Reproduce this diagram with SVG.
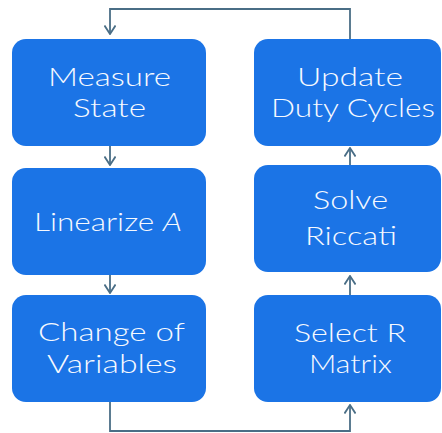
<svg xmlns="http://www.w3.org/2000/svg" width="442" height="433" viewBox="0 0 442 433">
  <style>
    .box { fill: #1b74e6; }
    .lbl { fill: #f6f9ff; font-family: Lato, "DejaVu Sans", sans-serif; font-size: 25.5px; font-weight: 300; text-anchor: middle; }
    .wire { fill: none; stroke: #4a6e86; stroke-width: 1.8; }
  </style>
  <defs>
    <marker id="arrow" viewBox="0 0 12 12" refX="11" refY="6" markerWidth="12" markerHeight="12" markerUnits="userSpaceOnUse" orient="auto">
      <path d="M2.5 0.5 L11 6 L2.5 11.5" fill="none" stroke="#4a6e86" stroke-width="1.8"/>
    </marker>
  </defs>
  <rect width="442" height="433" fill="#ffffff"/>

  <g id="connectors">
    <path class="wire" d="M350 39 V9 H110 V34" marker-end="url(#arrow)"/>
    <path class="wire" d="M110 146 V165" marker-end="url(#arrow)"/>
    <path class="wire" d="M110 275 V293" marker-end="url(#arrow)"/>
    <path class="wire" d="M110 402 V431 H350 V405" marker-end="url(#arrow)"/>
    <path class="wire" d="M350 295 V276" marker-end="url(#arrow)"/>
    <path class="wire" d="M350 165 V148" marker-end="url(#arrow)"/>
  </g>

  <g id="measure-state">
    <rect class="box" x="12" y="39" width="194" height="107" rx="14"/>
    <text class="lbl" x="109.5" y="86" textLength="123" lengthAdjust="spacingAndGlyphs">Measure</text>
    <text class="lbl" x="109.5" y="117" textLength="73" lengthAdjust="spacingAndGlyphs">State</text>
  </g>

  <g id="linearize-a">
    <rect class="box" x="12" y="168" width="194" height="107" rx="14"/>
    <text class="lbl" x="108" y="231" textLength="148" lengthAdjust="spacingAndGlyphs">Linearize <tspan font-style="italic">A</tspan></text>
  </g>

  <g id="change-of-variables">
    <rect class="box" x="12" y="295" width="194" height="107" rx="14"/>
    <text class="lbl" x="111.5" y="341" textLength="147" lengthAdjust="spacingAndGlyphs">Change of</text>
    <text class="lbl" x="112" y="373" textLength="130" lengthAdjust="spacingAndGlyphs">Variables</text>
  </g>

  <g id="update-duty-cycles">
    <rect class="box" x="254" y="39" width="187" height="107" rx="14"/>
    <text class="lbl" x="350" y="86" textLength="106" lengthAdjust="spacingAndGlyphs">Update</text>
    <text class="lbl" x="353" y="117" textLength="164" lengthAdjust="spacingAndGlyphs">Duty Cycles</text>
  </g>

  <g id="solve-riccati">
    <rect class="box" x="254" y="165" width="187" height="107" rx="14"/>
    <text class="lbl" x="350.5" y="209" textLength="75" lengthAdjust="spacingAndGlyphs">Solve</text>
    <text class="lbl" x="351" y="245" textLength="92" lengthAdjust="spacingAndGlyphs">Riccati</text>
  </g>

  <g id="select-r-matrix">
    <rect class="box" x="254" y="295" width="187" height="107" rx="14"/>
    <text class="lbl" x="350" y="342" textLength="112" lengthAdjust="spacingAndGlyphs">Select R</text>
    <text class="lbl" x="350.5" y="373" textLength="83" lengthAdjust="spacingAndGlyphs">Matrix</text>
  </g>
</svg>
